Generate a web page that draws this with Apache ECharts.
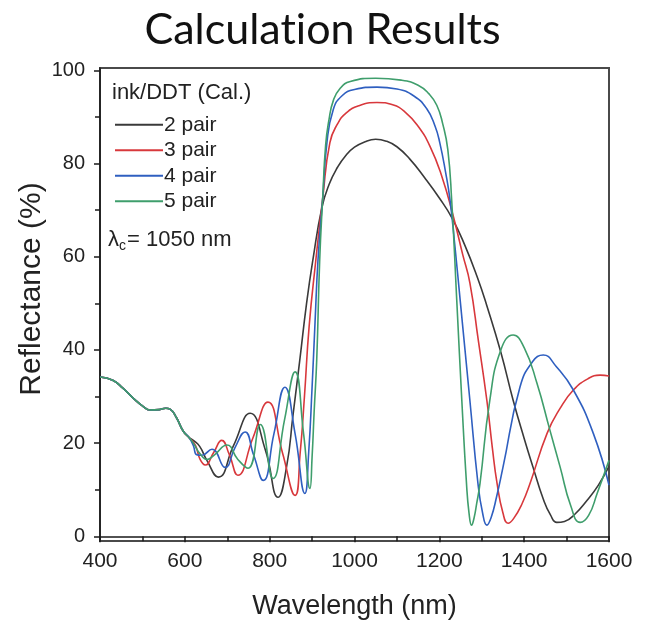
<!DOCTYPE html>
<html>
<head>
<meta charset="utf-8">
<script src="https://cdn.jsdelivr.net/npm/echarts@6/dist/echarts.min.js"></script>
<style>
  html, body { margin: 0; padding: 0; background: #ffffff; }
  #chart { width: 645px; height: 628px; }
</style>
</head>
<body>
<div id="chart"></div>
<script>
// Calculated reflectance spectra of ink/DDT stacks (λc = 1050 nm)
const xTicks = [400, 600, 800, 1000, 1200, 1400, 1600];
const yTicks = [0, 20, 40, 60, 80, 100];
const yMinorTicks = [10, 30, 50, 70, 90];
const seriesNames = ['2 pair', '3 pair', '4 pair', '5 pair'];

// shared short-wavelength part (nm, %)
const commonWl = [400, 430, 454, 480, 500, 518, 540, 555, 565, 580, 596, 610];
const commonR  = [34.2, 33.5, 31.8, 29.5, 28.0, 27.1, 27.2, 27.5, 27.3, 25.5, 22.6, 21.2];

const wl2 = [620, 635, 652, 679, 715, 754, 790, 820, 840, 855, 871, 887, 902, 923, 940, 960, 980, 1000, 1025, 1050, 1075, 1100, 1130, 1165, 1200, 1230, 1260, 1290, 1312, 1345, 1374, 1400, 1421, 1445, 1462, 1477, 1495, 1520, 1548, 1575, 1600];
const r2  = [20.6, 19.3, 16.3, 12.7, 19.5, 26.4, 18.5, 8.4, 15.0, 26.0, 37.8, 50.0, 59.4, 70.5, 75.5, 79.2, 81.8, 83.5, 84.7, 85.2, 84.8, 83.6, 81.0, 77.0, 72.6, 68.3, 62.5, 55.5, 49.5, 39.5, 29.2, 21.0, 14.8, 8.0, 4.6, 3.0, 3.2, 4.8, 7.7, 11.0, 15.0];

const wl3 = [625, 636, 648, 668, 687, 705, 725, 760, 796, 830, 860, 872, 882, 893, 909, 925, 942, 960, 980, 1010, 1053, 1090, 1120, 1150, 1178, 1205, 1232, 1255, 1272, 1292, 1312, 1325, 1336, 1350, 1362, 1375, 1395, 1414, 1454, 1485, 1516, 1550, 1579, 1600];
const r3  = [19.5, 16.5, 15.3, 18.0, 20.6, 17.5, 13.1, 21.0, 28.8, 18.0, 8.8, 18.0, 30.0, 45.0, 59.4, 72.5, 84.5, 88.5, 90.8, 92.4, 93.1, 92.6, 91.0, 88.0, 83.7, 77.5, 69.0, 60.5, 54.4, 42.0, 29.2, 19.0, 11.4, 5.0, 2.8, 3.8, 7.0, 11.4, 22.1, 27.5, 31.4, 33.8, 34.6, 34.4];

const wl4 = [620, 628, 640, 664, 695, 718, 742, 762, 785, 810, 836, 860, 883, 892, 900, 907, 914, 925, 935, 950, 970, 1000, 1053, 1100, 1140, 1170, 1190, 1201, 1215, 1225, 1237, 1249, 1272, 1291, 1302, 1312, 1322, 1335, 1350, 1390, 1420, 1445, 1475, 1516, 1563, 1600];
const r4  = [19.5, 17.5, 17.4, 18.7, 14.8, 19.0, 22.4, 17.5, 12.0, 22.0, 32.0, 22.0, 9.2, 18.0, 32.0, 46.0, 59.4, 72.5, 84.5, 91.6, 94.5, 95.9, 96.4, 96.0, 94.5, 91.8, 88.0, 84.5, 78.0, 72.3, 62.0, 50.8, 29.2, 11.4, 5.0, 2.4, 4.0, 8.5, 14.8, 32.0, 37.5, 38.9, 36.5, 31.4, 22.1, 11.0];

const wl5 = [620, 636, 652, 670, 699, 725, 749, 778, 808, 835, 860, 880, 895, 900, 905, 911, 918, 925, 932, 940, 950, 965, 990, 1050, 1110, 1150, 1175, 1194, 1208, 1220, 1229, 1241, 1253, 1264, 1270, 1276, 1282, 1288, 1296, 1319, 1345, 1374, 1400, 1430, 1460, 1485, 1510, 1532, 1552, 1572, 1600];
const r5  = [20.0, 17.7, 16.5, 17.5, 19.6, 16.5, 14.6, 24.0, 12.4, 25.0, 35.3, 22.0, 10.3, 17.0, 27.0, 38.0, 59.4, 72.5, 84.0, 89.5, 93.5, 96.0, 97.6, 98.3, 97.9, 96.8, 95.0, 92.5, 88.5, 83.0, 72.3, 50.8, 29.2, 11.4, 5.0, 2.4, 4.0, 7.0, 11.4, 29.2, 40.0, 43.2, 40.5, 32.9, 23.0, 14.8, 6.5, 3.0, 4.5, 9.2, 16.3];

const lineColors = ['#3a3a3a', '#d8383c', '#2f5fc0', '#3f9e6c'];

function pairs(wl, r) {
  const pts = commonWl.map((x, i) => [x, commonR[i]]);
  wl.forEach((x, i) => pts.push([x, r[i]]));
  return pts;
}
const curves = [pairs(wl2, r2), pairs(wl3, r3), pairs(wl4, r4), pairs(wl5, r5)];

const axisFont = "'Liberation Sans', Arial, sans-serif";
const chart = echarts.init(document.getElementById('chart'), null, { renderer: 'canvas' });

chart.setOption({
  backgroundColor: '#ffffff',
  animation: false,
  title: {
    // zero-width non-joiner keeps "ti" as two separate glyphs
    text: 'Calculat\u200Cion Results',
    left: 'center',
    top: 4,
    textStyle: { fontFamily: "Lato, 'Open Sans', sans-serif", fontSize: 43, fontWeight: 'normal', color: '#111' }
  },
  grid: {
    left: 100, right: 36, top: 68, bottom: 87,
    outerBoundsMode: 'none',
    containLabel: false,
    show: true, borderColor: '#4a4a4a', borderWidth: 2, backgroundColor: 'transparent'
  },
  legend: {
    orient: 'vertical',
    left: 110, top: 109,
    itemWidth: 48, itemHeight: 2, itemGap: 4,
    icon: 'rect',
    data: seriesNames,
    textStyle: { fontFamily: axisFont, fontSize: 21, lineHeight: 21.5, color: '#222', padding: [0, 0, 0, -4] }
  },
  xAxis: {
    type: 'value', min: 400, max: 1600, interval: 200,
    name: 'Wavelength (nm)', nameLocation: 'middle', nameGap: 52,
    nameTextStyle: { fontFamily: axisFont, fontSize: 27, color: '#222' },
    axisLine: { lineStyle: { color: '#1a1a1a', width: 1.5 } },
    axisTick: { inside: false, length: 6, lineStyle: { color: '#1a1a1a', width: 1.5 } },
    minorTick: { show: true, splitNumber: 2, length: 5, lineStyle: { color: '#1a1a1a', width: 1.5 } },
    axisLabel: { fontFamily: axisFont, fontSize: 21, color: '#222', margin: 10, formatter: v => String(v) },
    splitLine: { show: false }
  },
  yAxis: [{
    type: 'value', min: -1, max: 100.5,
    axisLine: { show: true, lineStyle: { color: '#1a1a1a', width: 1.5 } },
    axisTick: { show: true, length: 6, customValues: yTicks, lineStyle: { color: '#1a1a1a', width: 1.5 } },
    axisLabel: { customValues: yTicks, fontFamily: axisFont, fontSize: 20, color: '#222', margin: 15, formatter: v => String(v) },
    splitLine: { show: false }
  }, {
    type: 'value', min: -1, max: 100.5, position: 'left',
    axisLine: { show: false },
    axisTick: { show: true, length: 5, customValues: yMinorTicks, lineStyle: { color: '#1a1a1a', width: 1.5 } },
    axisLabel: { show: false },
    splitLine: { show: false }
  }],
  graphic: [
    { type: 'text', x: 32, y: 289, rotation: Math.PI / 2,
      style: { text: 'Reflectance (%)', font: "30px 'Liberation Sans', Arial, sans-serif", fill: '#222', align: 'center', verticalAlign: 'middle' } },
    { type: 'text', left: 112, top: 82, style: { text: 'ink/DDT (Cal.)', font: "22px 'Liberation Sans', Arial, sans-serif", fill: '#222' } },
    { type: 'text', left: 108, top: 229, style: { text: 'λ', font: "22px 'Liberation Sans', Arial, sans-serif", fill: '#222' } },
    { type: 'text', left: 119, top: 239, style: { text: 'c', font: "14px 'Liberation Sans', Arial, sans-serif", fill: '#222' } },
    { type: 'text', left: 127, top: 229, style: { text: '= 1050 nm', font: "22px 'Liberation Sans', Arial, sans-serif", fill: '#222' } }
  ],
  series: curves.map((pts, i) => ({
    name: seriesNames[i],
    type: 'line',
    data: pts,
    showSymbol: false,
    smooth: 0.5,
    clip: true,
    lineStyle: { color: lineColors[i], width: 1.6 },
    itemStyle: { color: lineColors[i] },
    z: 2 + i
  }))
});
</script>
</body>
</html>
